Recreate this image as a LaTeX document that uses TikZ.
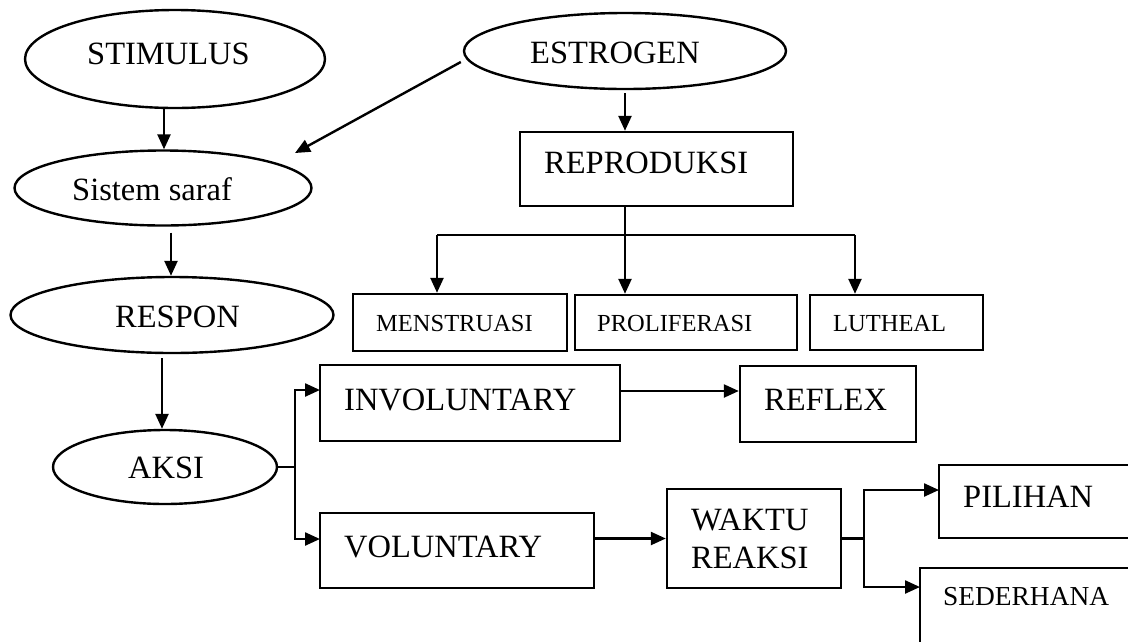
\documentclass[tikz,border=0pt]{standalone}
\usepackage{fontspec}
\setmainfont{Liberation Serif}
\usetikzlibrary{shapes.geometric,arrows.meta}
\begin{document}
\begin{tikzpicture}[x=1pt,y=-1pt, line width=2.4pt,
  oval/.style={ellipse, draw, inner sep=0pt},
  box/.style={rectangle, draw, inner sep=0pt},
  txt/.style={inner sep=0pt, anchor=base west, font=\fontsize{32.5}{39}\selectfont},
  stxt/.style={txt, font=\fontsize{24.5}{29}\selectfont},
  mtxt/.style={txt, font=\fontsize{27.4}{33}\selectfont},
  arr/.style={-{Triangle[length=15pt,width=13pt]}},
]
\useasboundingbox (0,0) rectangle (1128,641);
\clip (0,0) rectangle (1128,641);

% ellipses
\node[oval, minimum width=300pt, minimum height=98pt] (stim) at (175,59) {};
\node[oval, minimum width=322pt, minimum height=76pt] (estr) at (625,51) {};
\node[oval, minimum width=297pt, minimum height=75pt] (saraf) at (163,188) {};
\node[oval, minimum width=323pt, minimum height=76pt] (respon) at (172,315) {};
\node[oval, minimum width=224pt, minimum height=74pt] (aksi) at (165,467) {};

% boxes
\node[box, minimum width=273pt, minimum height=74pt] (repro) at (656.5,169) {};
\node[box, minimum width=214pt, minimum height=57pt] (menst) at (460,322.5) {};
\node[box, minimum width=222pt, minimum height=55pt] (proli) at (686,322.5) {};
\node[box, minimum width=173pt, minimum height=55pt] (luth) at (896.5,322.5) {};
\node[box, minimum width=300pt, minimum height=76pt] (invol) at (470,403) {};
\node[box, minimum width=176pt, minimum height=76pt] (reflex) at (828,404) {};
\node[box, minimum width=274pt, minimum height=75pt] (volun) at (457,550.5) {};
\node[box, minimum width=174pt, minimum height=99pt] (waktu) at (754,538.5) {};
\node[box, minimum width=231pt, minimum height=73pt] (pil) at (1054.5,501.5) {};
\node[box, minimum width=250pt, minimum height=122pt] (sed) at (1045,629) {};

% texts
\node[txt] (t-stim) at (86,64) {STIMULUS};
\node[txt] (t-estr) at (529,63) {ESTROGEN};
\node[txt] (t-saraf) at (71,200) {Sistem saraf};
\node[txt] (t-respon) at (114,327) {RESPON};
\node[txt] (t-aksi) at (127,478) {AKSI};
\node[txt] (t-repro) at (543,173) {REPRODUKSI};
\node[stxt] (t-menst) at (375,331) {MENSTRUASI};
\node[stxt] (t-proli) at (596,331) {PROLIFERASI};
\node[stxt] (t-luth) at (832,331) {LUTHEAL};
\node[txt] (t-invol) at (343,410) {INVOLUNTARY};
\node[txt] (t-reflex) at (763,410) {REFLEX};
\node[txt] (t-volun) at (343,557) {VOLUNTARY};
\node[txt] (t-waktu) at (690,530) {WAKTU};
\node[txt] (t-reaksi) at (690,568) {REAKSI};
\node[txt] (t-pil) at (962,507) {PILIHAN};
\node[mtxt] (t-sed) at (942,605) {SEDERHANA};

% connectors
\coordinate (estend) at (295,153);
\coordinate (busL) at (437,235);
\coordinate (busR) at (855,235);
\coordinate (ak) at (295,467);
\coordinate (wk) at (864,538.5);
\coordinate (pilin) at (939,490);
\coordinate (sedin) at (920,587);
\coordinate (involin) at (320,390);
\coordinate (volunin) at (320,539);

\draw[arr] ([xshift=-11pt]stim.south) -- ([xshift=1pt]saraf.north);
\draw[arr] ([xshift=8pt,yshift=-6pt]saraf.south) -- ([xshift=-1pt]respon.north);
\draw[arr] ([xshift=-10pt,yshift=-4pt]respon.south) -- ([xshift=-3pt]aksi.north);
\draw[arr] ([xshift=-2pt,yshift=-11pt]estr.west) -- (estend);
\draw[arr] ([yshift=-3pt]estr.south) -- (estr.south |- repro.north);
\draw[arr] (repro.south -| estr.south) -- (estr.south |- proli.north);
\draw (busL) -- (busR);
\draw[arr] (busL) -- (busL |- menst.north);
\draw[arr] (busR) -- (busR |- luth.north);
\draw (aksi.east) -- (ak);
\draw[arr] (ak) |- (involin);
\draw[arr] (ak) |- (volunin);
\draw[arr] ([yshift=12pt]invol.east) -- ([yshift=12pt]invol.east -| reflex.west);
\draw[arr] (waktu.west -| volun.east) -- (waktu.west);
\draw (waktu.east) -- (wk);
\draw[arr] (wk) |- (pilin);
\draw[arr] (wk) |- (sedin);
\end{tikzpicture}
\end{document}
